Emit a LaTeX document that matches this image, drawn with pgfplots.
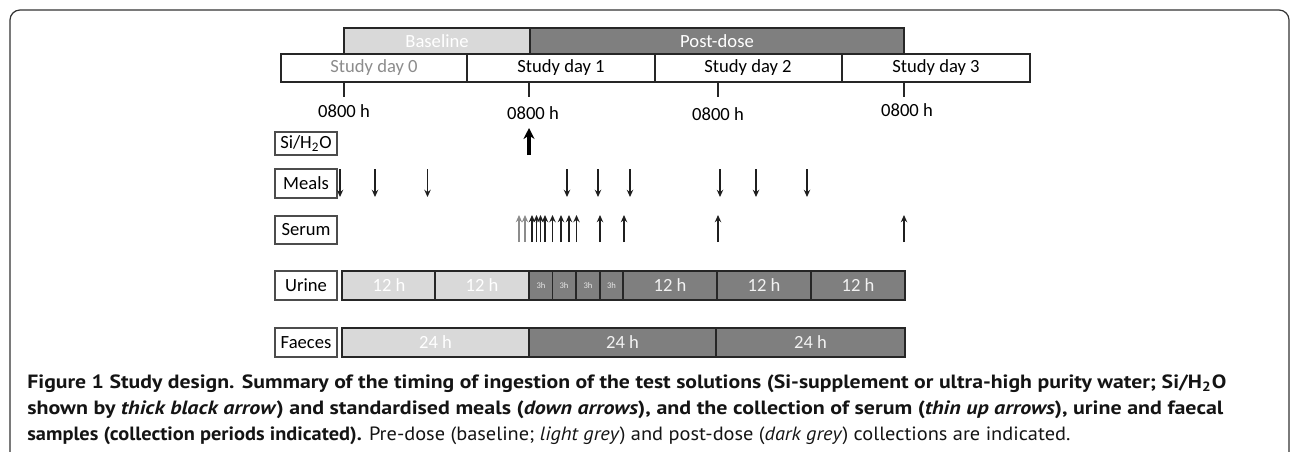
\documentclass[border=0pt]{standalone}
\usepackage{pgfplots}
\pgfplotsset{compat=1.18}
\usepackage{graphicx}
\usepackage{fontspec}
\setmainfont{Carlito}
\newfontfamily\capfont{PT Sans}
\usetikzlibrary{arrows.meta}
\definecolor{lgrey}{HTML}{D9D9D9}
\definecolor{dgrey}{HTML}{7F7F7F}
\definecolor{edge}{HTML}{262626}
\newcommand{\myrect}[5]{\addplot[fill=#1, draw=edge, line width=0.8pt, line join=miter, mark=none] coordinates {(#2,#4) (#3,#4) (#3,#5) (#2,#5)} --cycle;}
\newcommand{\labbox}[3]{\addplot[fill=white, draw=black!70, line width=0.8pt, mark=none] coordinates {(275,#1) (337,#1) (337,#2) (275,#2)} --cycle;
  \node[font=\fontsize{9.3}{10}\selectfont, text=black] at (axis cs:306,{(#1+#2)/2}) {#3};}
\newcommand{\downarr}[1]{\addplot[black!88, line width=0.7pt, mark=none, -{Stealth[length=3.6pt,width=3.2pt]}] coordinates {(#1,169) (#1,197)};}
\newcommand{\uparr}[2][black!88]{\addplot[#1, line width=0.7pt, mark=none, -{Stealth[length=3.6pt,width=3.2pt]}] coordinates {(#2,242) (#2,215)};}
\begin{document}
\begin{tikzpicture}
\begin{axis}[name=ax, xmin=0, xmax=1290, ymin=0, ymax=451, y dir=reverse,
  width=645pt, height=225.5pt, scale only axis, hide axis, clip=false]
% frame
\addplot[draw=black!80, line width=0.6pt, rounded corners=5pt, mark=none] coordinates {(10,470) (10,10) (1289,10) (1289,470)};
% baseline / post-dose
\myrect{lgrey}{344}{530}{28}{54}
\myrect{dgrey}{530}{904}{28}{54}
\node[font=\fontsize{9.3}{10}\selectfont, text=white] at (axis cs:437,41) {Baseline};
\node[font=\fontsize{9.3}{10}\selectfont, text=white] at (axis cs:717,41) {Post-dose};
% study days
\myrect{white}{281}{467}{54}{82}
\myrect{white}{467}{655}{54}{82}
\myrect{white}{655}{842}{54}{82}
\myrect{white}{842}{1030}{54}{82}
\node[font=\fontsize{9.3}{10}\selectfont, text=black!45] at (axis cs:374,68) {Study day 0};
\node[font=\fontsize{9.3}{10}\selectfont, text=black] at (axis cs:561,68) {Study day 1};
\node[font=\fontsize{9.3}{10}\selectfont, text=black] at (axis cs:748,68) {Study day 2};
\node[font=\fontsize{9.3}{10}\selectfont, text=black] at (axis cs:936,68) {Study day 3};
% ticks
\addplot[black!85, line width=0.8pt, mark=none] coordinates {(344,82) (344,97)};
\addplot[black!85, line width=0.8pt, mark=none] coordinates {(529,82) (529,97)};
\addplot[black!85, line width=0.8pt, mark=none] coordinates {(718,82) (718,97)};
\addplot[black!85, line width=0.8pt, mark=none] coordinates {(904,82) (904,97)};
\node[font=\fontsize{9.3}{10}\selectfont] at (axis cs:344,111) {0800 h};
\node[font=\fontsize{9.3}{10}\selectfont] at (axis cs:533,113) {0800 h};
\node[font=\fontsize{9.3}{10}\selectfont] at (axis cs:718,114) {0800 h};
\node[font=\fontsize{9.3}{10}\selectfont] at (axis cs:907,110) {0800 h};
% labels
\labbox{132}{155}{Si/H\textsubscript{2}O}
\labbox{169}{198}{Meals}
\labbox{216}{244}{Serum}
\labbox{271}{300}{Urine}
\labbox{328}{357}{Faeces}
% Si/H2O thick arrow
\addplot[black, line width=1.6pt, mark=none, -{Stealth[length=5.5pt,width=5.5pt]}] coordinates {(529,155) (529,128)};
% meals
\downarr{340}\downarr{375}\downarr{427.5}
\downarr{567}\downarr{598}\downarr{630}
\downarr{720}\downarr{756}\downarr{807}
% serum
\uparr[black!45]{519}\uparr[black!45]{525}
\uparr{532}\uparr{536.5}\uparr{540.5}\uparr{545}\uparr{552.5}\uparr{561}\uparr{569}\uparr{576.5}
\uparr{600}\uparr{624}\uparr{718}\uparr{904}
% urine
\myrect{lgrey}{342}{435}{271}{300}
\myrect{lgrey}{435}{529}{271}{300}
\myrect{dgrey}{529}{552.5}{271}{300}
\myrect{dgrey}{552.5}{576}{271}{300}
\myrect{dgrey}{576}{600}{271}{300}
\myrect{dgrey}{600}{623}{271}{300}
\myrect{dgrey}{623}{717}{271}{300}
\myrect{dgrey}{717}{811}{271}{300}
\myrect{dgrey}{811}{905}{271}{300}
\node[font=\fontsize{9.3}{10}\selectfont, text=white] at (axis cs:389,285.5) {12 h};
\node[font=\fontsize{9.3}{10}\selectfont, text=white] at (axis cs:482,285.5) {12 h};
\node[font=\fontsize{4.3}{5}\selectfont, text=white!90!black] at (axis cs:541,285.5) {3h};
\node[font=\fontsize{4.3}{5}\selectfont, text=white!90!black] at (axis cs:564,285.5) {3h};
\node[font=\fontsize{4.3}{5}\selectfont, text=white!90!black] at (axis cs:588,285.5) {3h};
\node[font=\fontsize{4.3}{5}\selectfont, text=white!90!black] at (axis cs:611.5,285.5) {3h};
\node[font=\fontsize{9.3}{10}\selectfont, text=white!95!black] at (axis cs:670,285.5) {12 h};
\node[font=\fontsize{9.3}{10}\selectfont, text=white!95!black] at (axis cs:764,285.5) {12 h};
\node[font=\fontsize{9.3}{10}\selectfont, text=white!95!black] at (axis cs:858,285.5) {12 h};
% faeces
\myrect{lgrey}{342}{529}{328}{357}
\myrect{dgrey}{529}{716}{328}{357}
\myrect{dgrey}{716}{905}{328}{357}
\node[font=\fontsize{9.3}{10}\selectfont, text=white] at (axis cs:435.5,342.5) {24 h};
\node[font=\fontsize{9.3}{10}\selectfont, text=white!95!black] at (axis cs:622.5,342.5) {24 h};
\node[font=\fontsize{9.3}{10}\selectfont, text=white!95!black] at (axis cs:810.5,342.5) {24 h};
% caption
\node[anchor=base west, inner sep=0pt, font=\capfont\fontsize{9.6}{11}\selectfont, text=black!92] at (axis cs:27,388) {\resizebox{599.5pt}{\height}{\textbf{Figure 1 Study design. Summary of the timing of ingestion of the test solutions (Si-supplement or ultra-high purity water; Si/H\textsubscript{2}O}}};
\node[anchor=base west, inner sep=0pt, font=\capfont\fontsize{9.6}{11}\selectfont, text=black!92] at (axis cs:27,414) {\resizebox{598pt}{\height}{\textbf{shown by \textit{thick black arrow}) and standardised meals (\textit{down arrows}), and the collection of serum (\textit{thin up arrows}), urine and faecal}}};
\node[anchor=base west, inner sep=0pt, font=\capfont\fontsize{9.6}{11}\selectfont, text=black!92] at (axis cs:27,440) {\resizebox{521.5pt}{\height}{\textbf{samples (collection periods indicated).} Pre-dose (baseline; \textit{light grey}) and post-dose (\textit{dark grey}) collections are indicated.}};
\end{axis}
\pgfresetboundingbox
\path (ax.south west) rectangle (ax.north east);
\end{tikzpicture}
\end{document}
